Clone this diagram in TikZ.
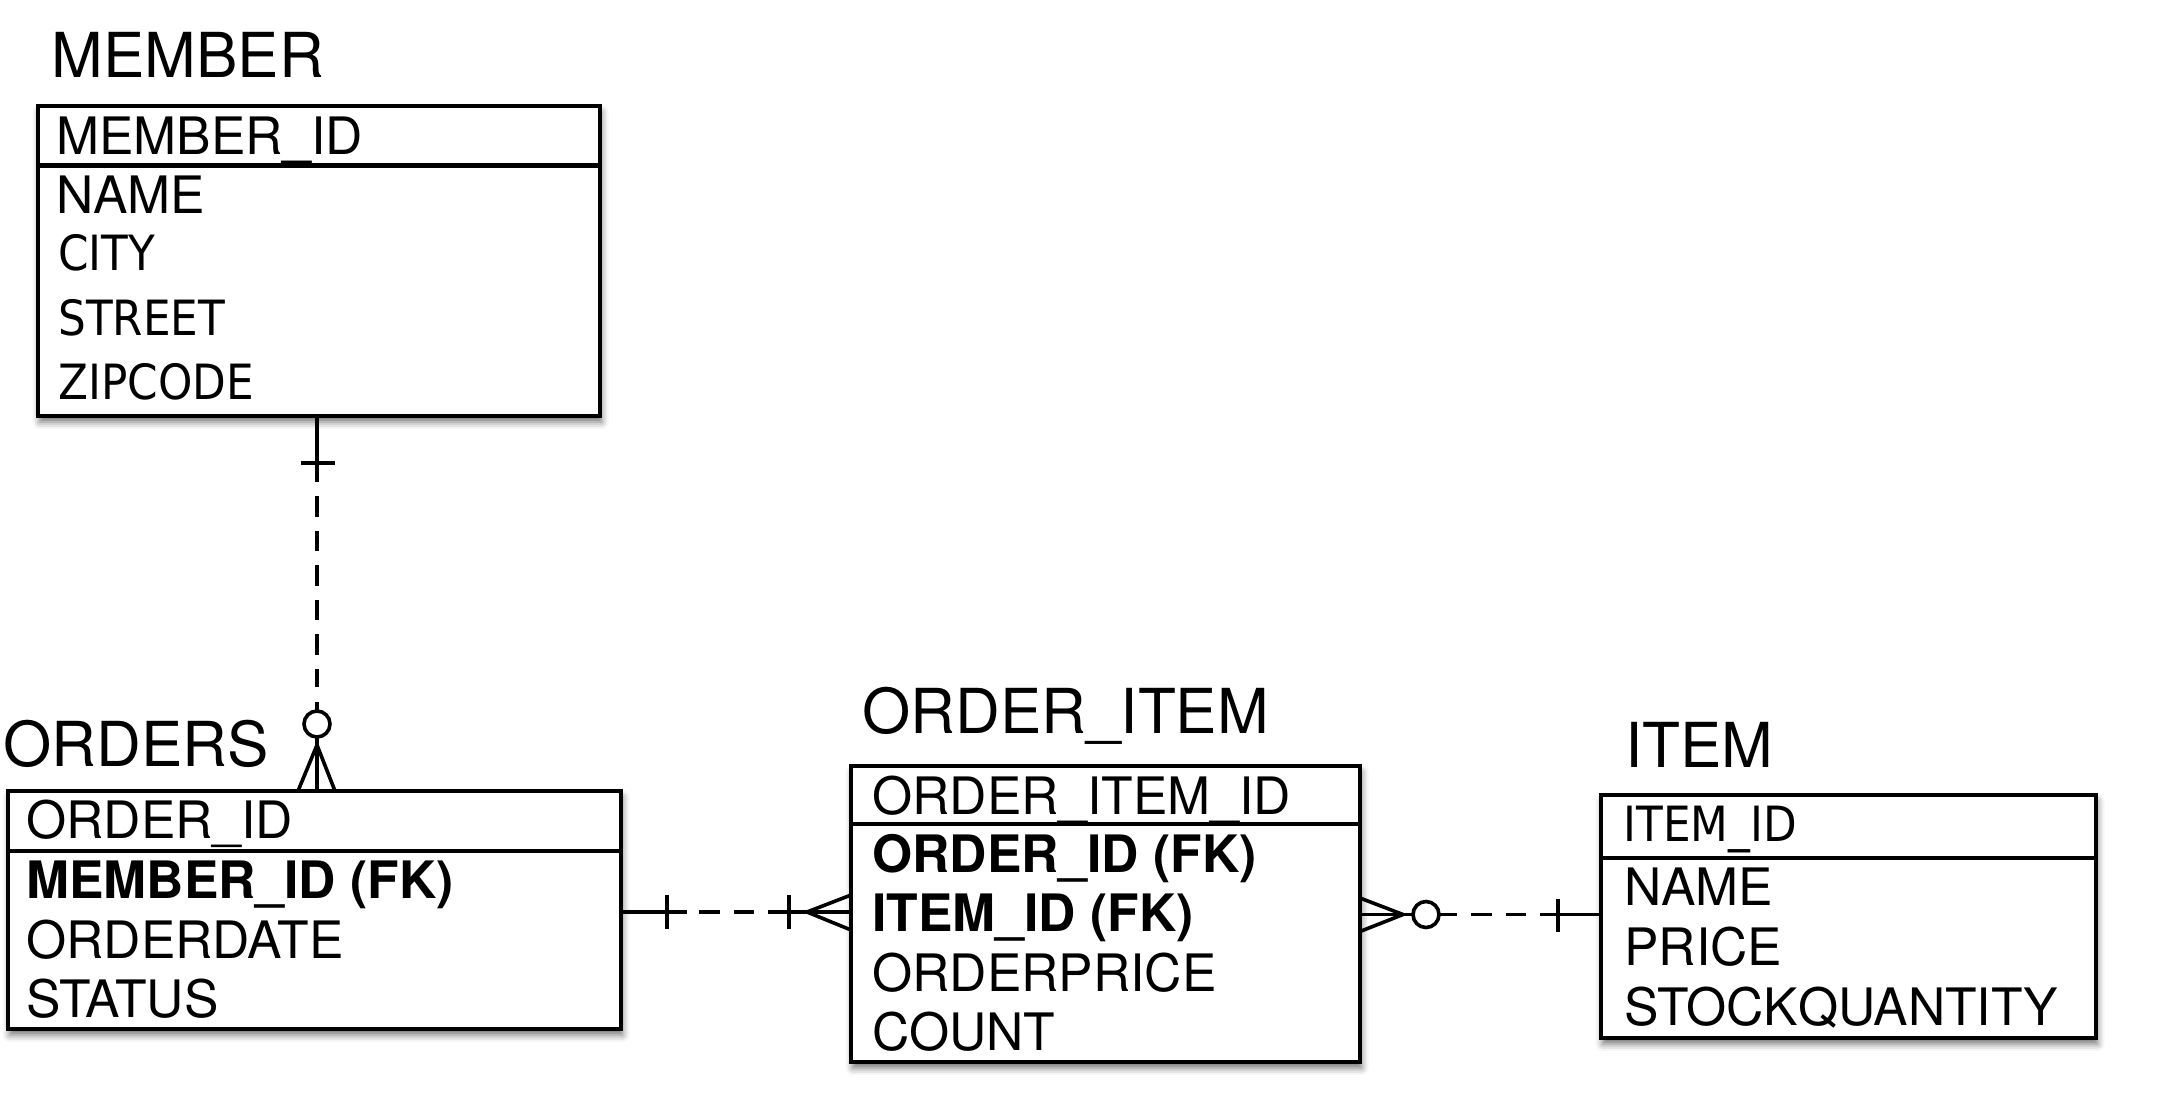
\documentclass[tikz,border=0pt]{standalone}
\usepackage{fontspec}
\setmainfont{TeX Gyre Heros}
\newfontfamily\dvc{DejaVu Sans}[FakeStretch=0.9]
\usetikzlibrary{shadows.blur}
\begin{document}
\begin{tikzpicture}[x=0.5pt,y=-0.5pt,
  entbox/.style={draw=black,line width=2.2pt,fill=white,inner sep=0pt,outer sep=0pt,anchor=north west,
    blur shadow={shadow xshift=0.8pt,shadow yshift=-3pt,shadow blur radius=3.5pt,shadow opacity=55}},
  sepline/.style={line width=2.2pt},
  ttl/.style={anchor=base west,inner sep=0pt,font=\fontsize{31}{36}\selectfont},
  fld/.style={anchor=base west,inner sep=0pt,font=\fontsize{25.8}{30}\selectfont},
  dfld/.style={anchor=base west,inner sep=0pt,font=\dvc\fontsize{24.3}{28}\selectfont},
  bfld/.style={anchor=base west,inner sep=0pt,font=\bfseries\fontsize{25.8}{30}\selectfont},
  conn/.style={line width=1.8pt,black},
  dashpat/.style={conn,dash pattern=on 10.25pt off 7pt},
]
\useasboundingbox (0,0) rectangle (2158,1100);

% ---------- MEMBER ----------
\node[ttl] (tmember) at (51.5,77.5) {MEMBER};
\node[entbox,minimum width=281pt,minimum height=155pt] (member) at (38,106) {};
\draw[sepline] (38,165.5) -- (600,165.5);
\node[fld]  (m1) at (56,154)   {MEMBER\_ID};
\node[fld]  (m2) at (56,213)   {NAME};
\node[dfld] (m3) at (58,270.5) {CITY};
\node[dfld] (m4) at (58,335.5) {STREET};
\node[dfld] (m5) at (58,399)   {ZIPCODE};

% ---------- ORDERS ----------
\node[ttl] (torders) at (3,766.5) {ORDERS};
\node[entbox,minimum width=306.5pt,minimum height=119pt] (orders) at (8,791) {};
\draw[sepline] (8,851) -- (621,851);
\node[fld]  (o1) at (26,838)  {ORDER\_ID};
\node[bfld] (o2) at (26,898)  {MEMBER\_ID (FK)};
\node[fld]  (o3) at (26,958)  {ORDERDATE};
\node[fld]  (o4) at (26,1017.5) {STATUS};

% ---------- ORDER_ITEM ----------
\node[ttl] (toi) at (862,733) {ORDER\_ITEM};
\node[entbox,minimum width=254.5pt,minimum height=148pt] (oi) at (851,766) {};
\draw[sepline] (851,824) -- (1360,824);
\node[fld]  (oi1) at (872,814)  {ORDER\_ITEM\_ID};
\node[bfld] (oi2) at (872,872)  {ORDER\_ID (FK)};
\node[bfld] (oi3) at (872,931)  {ITEM\_ID (FK)};
\node[fld]  (oi4) at (872,991)  {ORDERPRICE};
\node[fld]  (oi5) at (872,1050) {COUNT};

% ---------- ITEM ----------
\node[ttl] (titem) at (1625,767) {ITEM};
\node[entbox,minimum width=247.5pt,minimum height=121.5pt] (item) at (1601,795) {};
\draw[sepline] (1601,858) -- (2096,858);
\node[dfld] (i1) at (1623,841)  {ITEM\_ID};
\node[fld]  (i2) at (1624,905)  {NAME};
\node[fld]  (i3) at (1624,965)  {PRICE};
\node[fld]  (i4) at (1624,1025) {STOCKQUANTITY};

% ---------- MEMBER -- ORDERS (one to zero-or-many) ----------
\coordinate (va) at (317,482);
\coordinate (vb) at (317,496);
\coordinate (vc) at (317,687);
\coordinate (vd) at (317,702);
\coordinate (vcirc) at (317,724);
\coordinate (vapex) at (317,745);
\draw[conn] (member.south -| va) -- (va);
\draw[conn] (300.5,463) -- (334.5,463);
\draw[dashpat] (vb) -- (vc);
\draw[conn] (vd) -- (317,711);
\draw[conn] (vcirc) circle[radius=6.5pt];
\draw[conn] (317,737) -- (orders.north -| vapex);
\draw[conn] (orders.north -| 298,0) -- (vapex) -- (orders.north -| 335,0);

% ---------- ORDERS -- ORDER_ITEM (one to many) ----------
\coordinate (ha) at (687,912);
\coordinate (hb) at (699,912);
\coordinate (hc) at (755,912);
\coordinate (hd) at (768,912);
\coordinate (hapex) at (807,912);
\draw[conn] (orders.east |- ha) -- (ha);
\draw[conn] (667,895) -- (667,929);
\draw[dashpat] (hb) -- (hc);
\draw[conn] (hd) -- (oi.west |- hd);
\draw[conn] (789,895) -- (789,929);
\draw[conn] (oi.west |- 0,895) -- (hapex) -- (oi.west |- 0,930);

% ---------- ORDER_ITEM -- ITEM (zero-or-many to one) ----------
\coordinate (ra) at (1403,914.5);
\coordinate (rcirc) at (1426,914.5);
\coordinate (rb) at (1439,914.5);
\coordinate (rc) at (1457,914.5);
\coordinate (rd) at (1471,914.5);
\coordinate (re) at (1526,914.5);
\coordinate (rf) at (1540,914.5);
\draw[conn] (oi.east |- 0,898) -- (ra) -- (oi.east |- 0,931.5);
\draw[conn] (oi.east |- ra) -- (1413,914.5);
\draw[conn] (rcirc) circle[radius=6.5pt];
\draw[conn] (rb) -- (rc);
\draw[dashpat] (rd) -- (re);
\draw[conn] (rf) -- (item.west |- rf);
\draw[conn] (1558,898.5) -- (1558,932);
\end{tikzpicture}
\end{document}
